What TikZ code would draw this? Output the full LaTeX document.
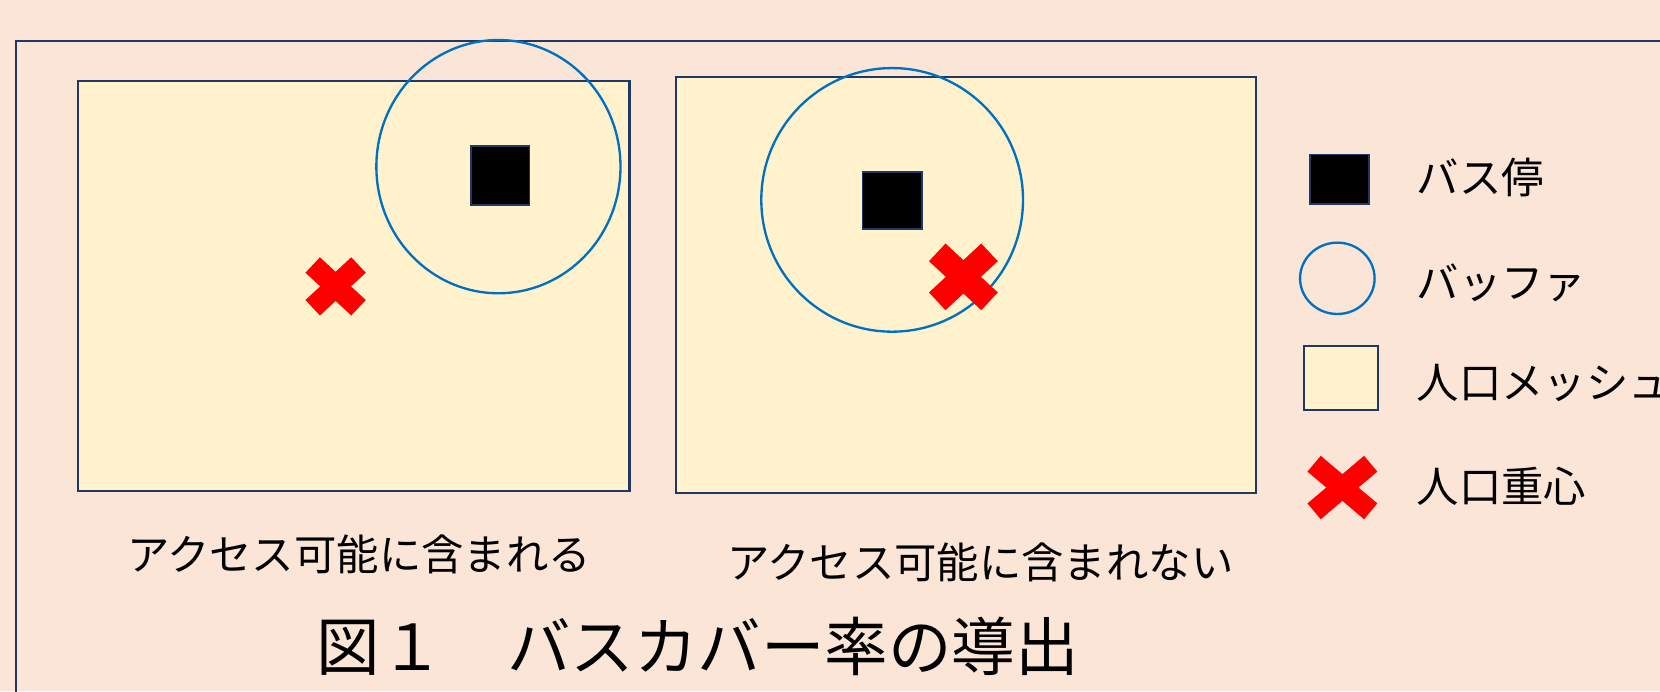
\documentclass[tikz,border=0pt]{standalone}
\usepackage{fontspec}
\newfontfamily\jp{Noto Sans CJK JP}
\definecolor{bg}{HTML}{FBE5D6}
\definecolor{meshfill}{HTML}{FFF2CC}
\definecolor{navy}{HTML}{1F3864}
\definecolor{bufblue}{HTML}{0070C0}
\definecolor{xred}{HTML}{FF0000}
\tikzset{
  meshbox/.style={fill=meshfill, draw=navy, line width=1pt},
  stopbox/.style={fill=black, draw=navy, line width=0.8pt},
  bufring/.style={draw=bufblue, line width=1.1pt},
  lab/.style={font=\jp\fontsize{20pt}{24pt}\selectfont, inner sep=0pt, text=black},
  ttl/.style={font=\jp\fontsize{30pt}{36pt}\selectfont, inner sep=0pt, text=black},
  pics/xmark/.style={code={\fill[xred] (-0.26,-0.5) -- (0,-0.25) -- (0.26,-0.5) -- (0.5,-0.234) -- (0.255,0) -- (0.5,0.234) -- (0.26,0.5) -- (0,0.25) -- (-0.26,0.5) -- (-0.5,0.234) -- (-0.255,0) -- (-0.5,-0.234) -- cycle;}},
  pics/xmarkbold/.style={code={\fill[xred] (-0.31,-0.5) -- (0,-0.21) -- (0.31,-0.5) -- (0.5,-0.25) -- (0.23,0) -- (0.5,0.25) -- (0.31,0.5) -- (0,0.21) -- (-0.31,0.5) -- (-0.5,0.25) -- (-0.23,0) -- (-0.5,-0.25) -- cycle;}}
}
\begin{document}
\begin{tikzpicture}[x=0.5pt,y=-0.5pt]
\fill[bg] (0,0) rectangle (1568,653);
\useasboundingbox (0,0) rectangle (1568,653);
\clip (0,0) rectangle (1568,653);
% outer frame (runs off the right and bottom edges)
\draw[navy, line width=1pt] (14.8,700) -- (14.8,38.7) -- (1600,38.7);
% left panel
\path[meshbox] (73.8,76.5) rectangle (594.6,463.5);
\draw[bufring] (470.8,157.4) ellipse [x radius=115.3, y radius=119.6];
\path[stopbox] (444.9,137.6) rectangle (500.1,193.6);
\pic[xscale=57, yscale=55] at (317,270.5) {xmark};
% right panel
\path[meshbox] (638.6,73) rectangle (1186.2,465.4);
\draw[bufring] (842.7,188.8) ellipse [x radius=123.6, y radius=124.5];
\path[stopbox] (814.6,162.2) rectangle (871.1,216.3);
\pic[xscale=65, yscale=63] at (910,261.5) {xmark};
% legend
\path[stopbox] (1237.7,145.8) rectangle (1293.1,193);
\draw[bufring] (1263.2,262.9) ellipse [x radius=35.2, y radius=33.7];
\path[meshbox] (1231.4,326.5) rectangle (1301.9,387.3);
\pic[xscale=66, yscale=60] at (1268,460.5) {xmarkbold};
\node[lab, anchor=west] (l1) at (1338,168) {バス停};
\node[lab, anchor=west] (l2) at (1338,267) {バッファ};
\node[lab, anchor=west] (l3) at (1338,362) {人口メッシュ};
\node[lab, anchor=west] (l4) at (1338,459) {人口重心};
% captions
\node[lab] (c1) at (339,524) {アクセス可能に含まれる};
\node[lab] (c2) at (926,531) {アクセス可能に含まれない};
\node[ttl] (t) at (659,611) {図１　バスカバー率の導出};
\end{tikzpicture}
\end{document}
